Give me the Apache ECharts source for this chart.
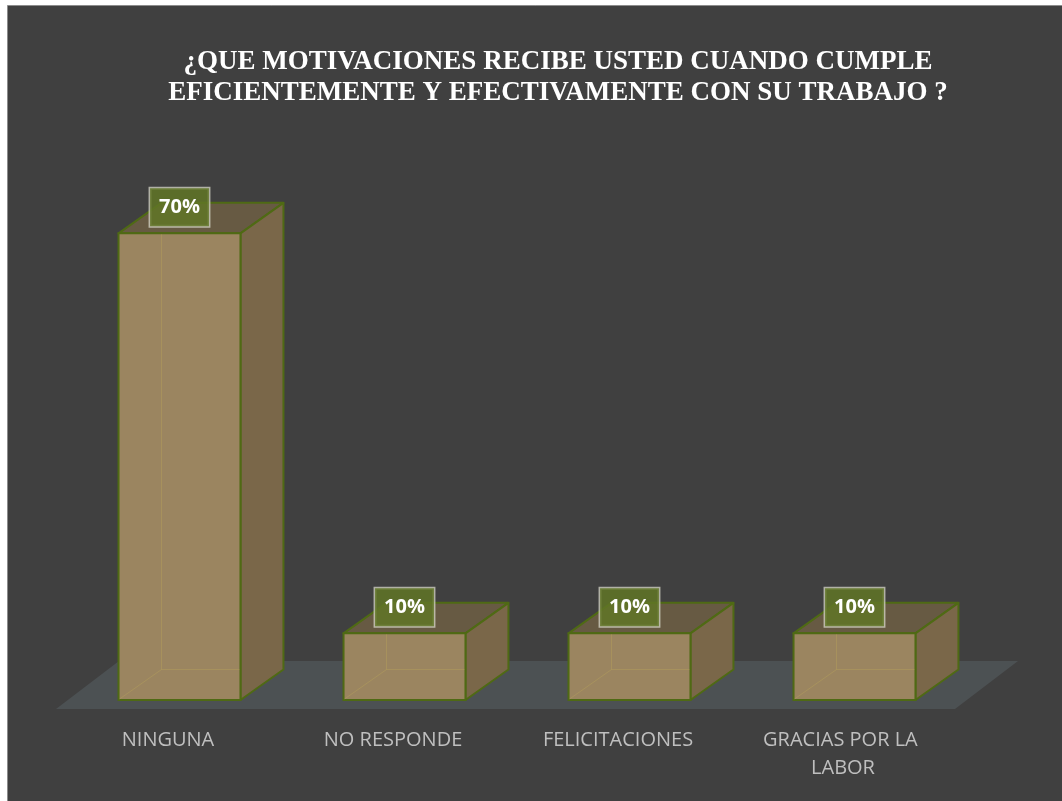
<!DOCTYPE html>
<html><head><meta charset="utf-8">
<script src="https://cdn.jsdelivr.net/npm/echarts@6/dist/echarts.min.js"></script>
<style>html,body{margin:0;padding:0;background:#fff}#c{width:1062px;height:801px}</style>
</head><body><div id="c"></div>
<script>
const titleLines = ['¿QUE MOTIVACIONES RECIBE USTED CUANDO CUMPLE', 'EFICIENTEMENTE Y EFECTIVAMENTE CON SU TRABAJO ?'];
const categories = ['NINGUNA', 'NO RESPONDE', 'FELICITACIONES', 'GRACIAS POR LA LABOR'];
const values = [70, 10, 10, 10];
const valueLabels = ['70%', '10%', '10%', '10%'];

const chart = echarts.init(document.getElementById('c'), null, {renderer: 'canvas'});

function renderFloor(params, api) {
  const p = api.coord([0, 0]);
  const bw = api.size([1, 0])[0];
  const left = p[0] - bw / 2;
  const right = left + categories.length * bw;
  const y = p[1];
  return {
    type: 'polygon',
    shape: {points: [[left - 11, y + 9], [right - 12, y + 9], [right + 51, y - 39], [left + 52, y - 39]]},
    style: {fill: '#4c5153'}
  };
}

function renderBar(params, api) {
  const i = api.value(0);
  const top = api.coord([i, api.value(1)]);
  const base = api.coord([i, 0]);
  const bw = api.size([1, 0])[0];
  const hw = bw * 0.271;
  const dx = bw * 0.191;
  const dy = 30.5;
  const xl = top[0] - hw, xr = top[0] + hw, yt = top[1], yb = base[1];
  const edge = '#4f6a14';
  return {
    type: 'group',
    children: [
      {type: 'polygon', shape: {points: [[xl, yt], [xr, yt], [xr + dx, yt - dy], [xl + dx, yt - dy]]},
        style: {fill: '#675a43', stroke: edge, lineWidth: 2, lineJoin: 'round'}},
      {type: 'polygon', shape: {points: [[xr, yt], [xr + dx, yt - dy], [xr + dx, yb - dy], [xr, yb]]},
        style: {fill: '#7a6749', stroke: edge, lineWidth: 2, lineJoin: 'round'}},
      {type: 'rect', shape: {x: xl, y: yt, width: xr - xl, height: yb - yt},
        style: {fill: '#9b8560', stroke: edge, lineWidth: 2}},
      {type: 'polyline', shape: {points: [[xl + 1, yb - 1], [xl + dx, yb - dy], [xr - 1, yb - dy]]},
        style: {fill: null, stroke: 'rgba(190,170,90,0.35)', lineWidth: 1}},
      {type: 'line', shape: {x1: xl + dx, y1: yb - dy, x2: xl + dx, y2: yt + 1},
        style: {stroke: 'rgba(190,170,90,0.35)', lineWidth: 1}},
      {type: 'text', x: top[0], y: yt - 26,
        style: {text: valueLabels[params.dataIndex], fill: '#ffffff', font: 'bold 20px "Open Sans"',
          align: 'center', verticalAlign: 'middle', lineHeight: 28, padding: [5, 9],
          backgroundColor: 'rgba(96,118,38,0.85)', borderColor: 'rgba(215,215,200,0.75)', borderWidth: 1.5,
          boxShadowBlur: 14, boxShadowColor: 'rgba(0,0,0,0.35)', boxShadowOffsetY: 8}}
    ]
  };
}

chart.setOption({
  animation: false,
  backgroundColor: '#ffffff',
  graphic: [{type: 'rect', z: -100, shape: {x: 7.5, y: 5.5, width: 1060, height: 800},
    style: {fill: '#404040', stroke: '#8c8c8c', lineWidth: 1}}],
  title: {
    text: titleLines.join('\n'), left: 558, top: 47, textAlign: 'center', padding: 0,
    textStyle: {color: '#ffffff', fontFamily: '"Liberation Serif", serif', fontWeight: 'bold', fontSize: 27, lineHeight: 31}
  },
  grid: {left: 67, right: 95, top: 100, bottom: 101},
  xAxis: {
    type: 'category', data: categories,
    axisLine: {show: false}, axisTick: {show: false}, splitLine: {show: false},
    axisLabel: {color: '#bfbfbf', fontFamily: '"Open Sans"', fontSize: 20, lineHeight: 28, margin: 26,
      width: 175, overflow: 'break', padding: [0, 23, 0, 0], interval: 0}
  },
  yAxis: {type: 'value', min: 0, max: 90, show: false, splitLine: {show: false}},
  series: [
    {type: 'custom', silent: true, z: 1, renderItem: renderFloor, data: [[0, 0]]},
    {type: 'custom', z: 3, renderItem: renderBar, data: values.map((v, i) => [i, v])}
  ]
});
</script></body></html>
